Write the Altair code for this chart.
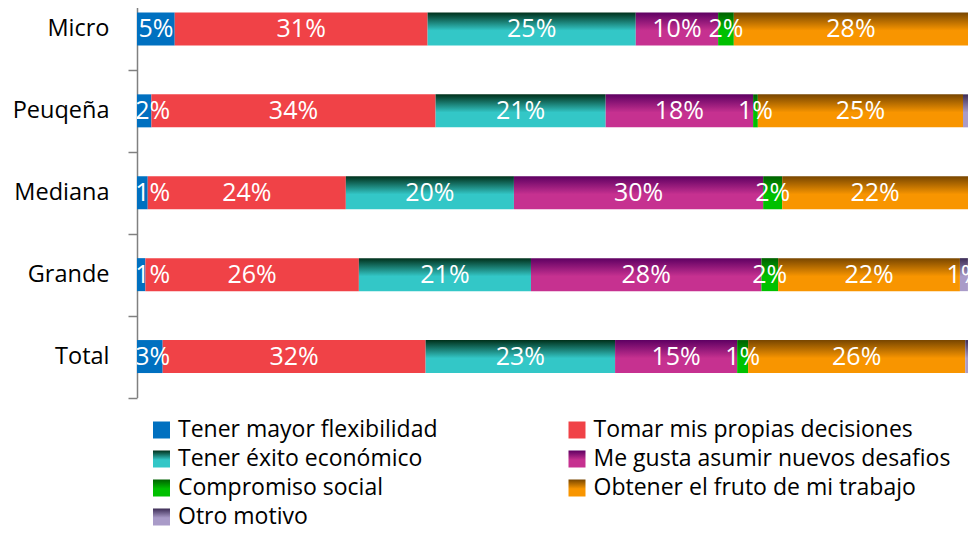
import altair as alt
import pandas as pd

categories = ["Micro", "Peuqeña", "Mediana", "Grande", "Total"]
series = [
    "Tener mayor flexibilidad",
    "Tomar mis propias decisiones",
    "Tener éxito económico",
    "Me gusta asumir nuevos desafios",
    "Compromiso social",
    "Obtener el fruto de mi trabajo",
    "Otro motivo",
]

# shares (%) per category, in the order of `categories`
flexibilidad = [4.54, 1.73, 1.29, 1.01, 3.09]
decisiones = [30.43, 34.20, 23.84, 25.69, 31.64]
exito = [25.05, 20.47, 20.23, 20.71, 22.80]
desafios = [9.91, 17.74, 29.99, 27.73, 14.69]
compromiso = [1.89, 0.57, 2.29, 2.01, 1.32]
fruto = [28.18, 24.69, 22.36, 21.88, 26.13]
otro = [0.0, 0.60, 0.0, 0.96, 0.33]

# data labels as printed on the bars (None = no label shown)
lab_flexibilidad = [5, 2, 1, 1, 3]
lab_decisiones = [31, 34, 24, 26, 32]
lab_exito = [25, 21, 20, 21, 23]
lab_desafios = [10, 18, 30, 28, 15]
lab_compromiso = [2, 1, 2, 2, 1]
lab_fruto = [28, 25, 22, 22, 26]
lab_otro = [None, None, None, 1, None]

values = [flexibilidad, decisiones, exito, desafios, compromiso, fruto, otro]
labels = [lab_flexibilidad, lab_decisiones, lab_exito, lab_desafios,
          lab_compromiso, lab_fruto, lab_otro]

# (top colour, bottom colour) of each series' fill
colors = [
    ("#0070c0", "#0070c0"),
    ("#f04247", "#f04247"),
    ("#00301a", "#33c7c7"),
    ("#5e0062", "#c63190"),
    ("#006000", "#00c000"),
    ("#784600", "#f89500"),
    ("#3c2c55", "#a99bc8"),
]

rows = []
for si, s in enumerate(series):
    for ci, c in enumerate(categories):
        lab = labels[si][ci]
        rows.append({"cat": c, "series": s, "order": si,
                     "value": values[si][ci],
                     "label": "" if lab is None else f"{lab}%"})
df = pd.DataFrame(rows)

leg_df = pd.DataFrame({
    "series": series,
    "order": list(range(len(series))),
    "col": [i % 2 for i in range(len(series))],
    "row": [i // 2 for i in range(len(series))],
})


def fill(top, bottom):
    if top == bottom:
        return top
    return alt.LinearGradient(
        gradient="linear", x1=0, x2=0, y1=0, y2=1,
        stops=[alt.GradientStop(color=top, offset=0),
               alt.GradientStop(color=bottom, offset=0.55),
               alt.GradientStop(color=bottom, offset=1)])


FONT = "Open Sans"

xscale = alt.Scale(domain=[0, 100], nice=False, zero=True)
y_enc = alt.Y(
    "cat:N", sort=categories,
    scale=alt.Scale(domain=categories, range=[-20, 389.5],
                    paddingInner=0, paddingOuter=0),
    axis=alt.Axis(title=None, labelFont=FONT, labelFontSize=23.5,
                  labelColor="black", domainColor="#808080",
                  tickColor="#808080", domainWidth=1.5, tickWidth=1.5,
                  tickSize=9, tickBand="extent", labelPadding=19,
                  grid=False, labelLimit=300))

base = alt.Chart(df).transform_stack(
    stack="value", groupby=["cat"], as_=["x0", "x1"],
    sort=[alt.SortField("order", order="ascending")])

bar_layers = []
for si, s in enumerate(series):
    top, bottom = colors[si]
    bar_layers.append(
        base.transform_filter(alt.datum.order == si)
        .mark_bar(size=33, color=fill(top, bottom), strokeWidth=0)
        .encode(x=alt.X("x0:Q", scale=xscale, axis=None),
                x2="x1:Q", y=y_enc))

text_layer = (
    base.transform_filter("datum.label != ''")
    .transform_calculate(mid="max((datum.x0 + datum.x1) / 2, 1.9)")
    .mark_text(color="white", font=FONT, fontSize=25, clip=True,
               baseline="middle", align="center")
    .encode(x=alt.X("mid:Q", scale=xscale, axis=None), y=y_enc,
            text="label:N"))

bars = alt.layer(*bar_layers, text_layer)

lx = alt.X("col:Q", scale=alt.Scale(domain=[0, 1], range=[24.5, 440]), axis=None)
ly = alt.Y("row:Q", scale=alt.Scale(domain=[0, 3], range=[422, 509]), axis=None)

leg_base = alt.Chart(leg_df)
swatches = []
for si, s in enumerate(series):
    top, bottom = colors[si]
    swatches.append(
        leg_base.transform_filter(alt.datum.order == si)
        .mark_square(size=289, filled=True, opacity=1, strokeWidth=0,
                     color=fill(top, bottom))
        .encode(x=lx, y=ly))

leg_text = leg_base.mark_text(
    align="left", baseline="middle", dx=16.5, font=FONT, fontSize=23,
    color="black").encode(x=lx, y=ly, text="series:N")

legend = alt.layer(*swatches, leg_text)

chart = (
    alt.layer(bars, legend)
    .resolve_scale(x="independent", y="independent")
    .properties(width=831, height=390, autosize="none",
                padding={"left": 129, "top": 0, "right": 0, "bottom": 131},
                background="white")
    .configure_view(strokeWidth=0)
)

chart.save("out.html", embed_options={"renderer": "svg", "actions": False})
